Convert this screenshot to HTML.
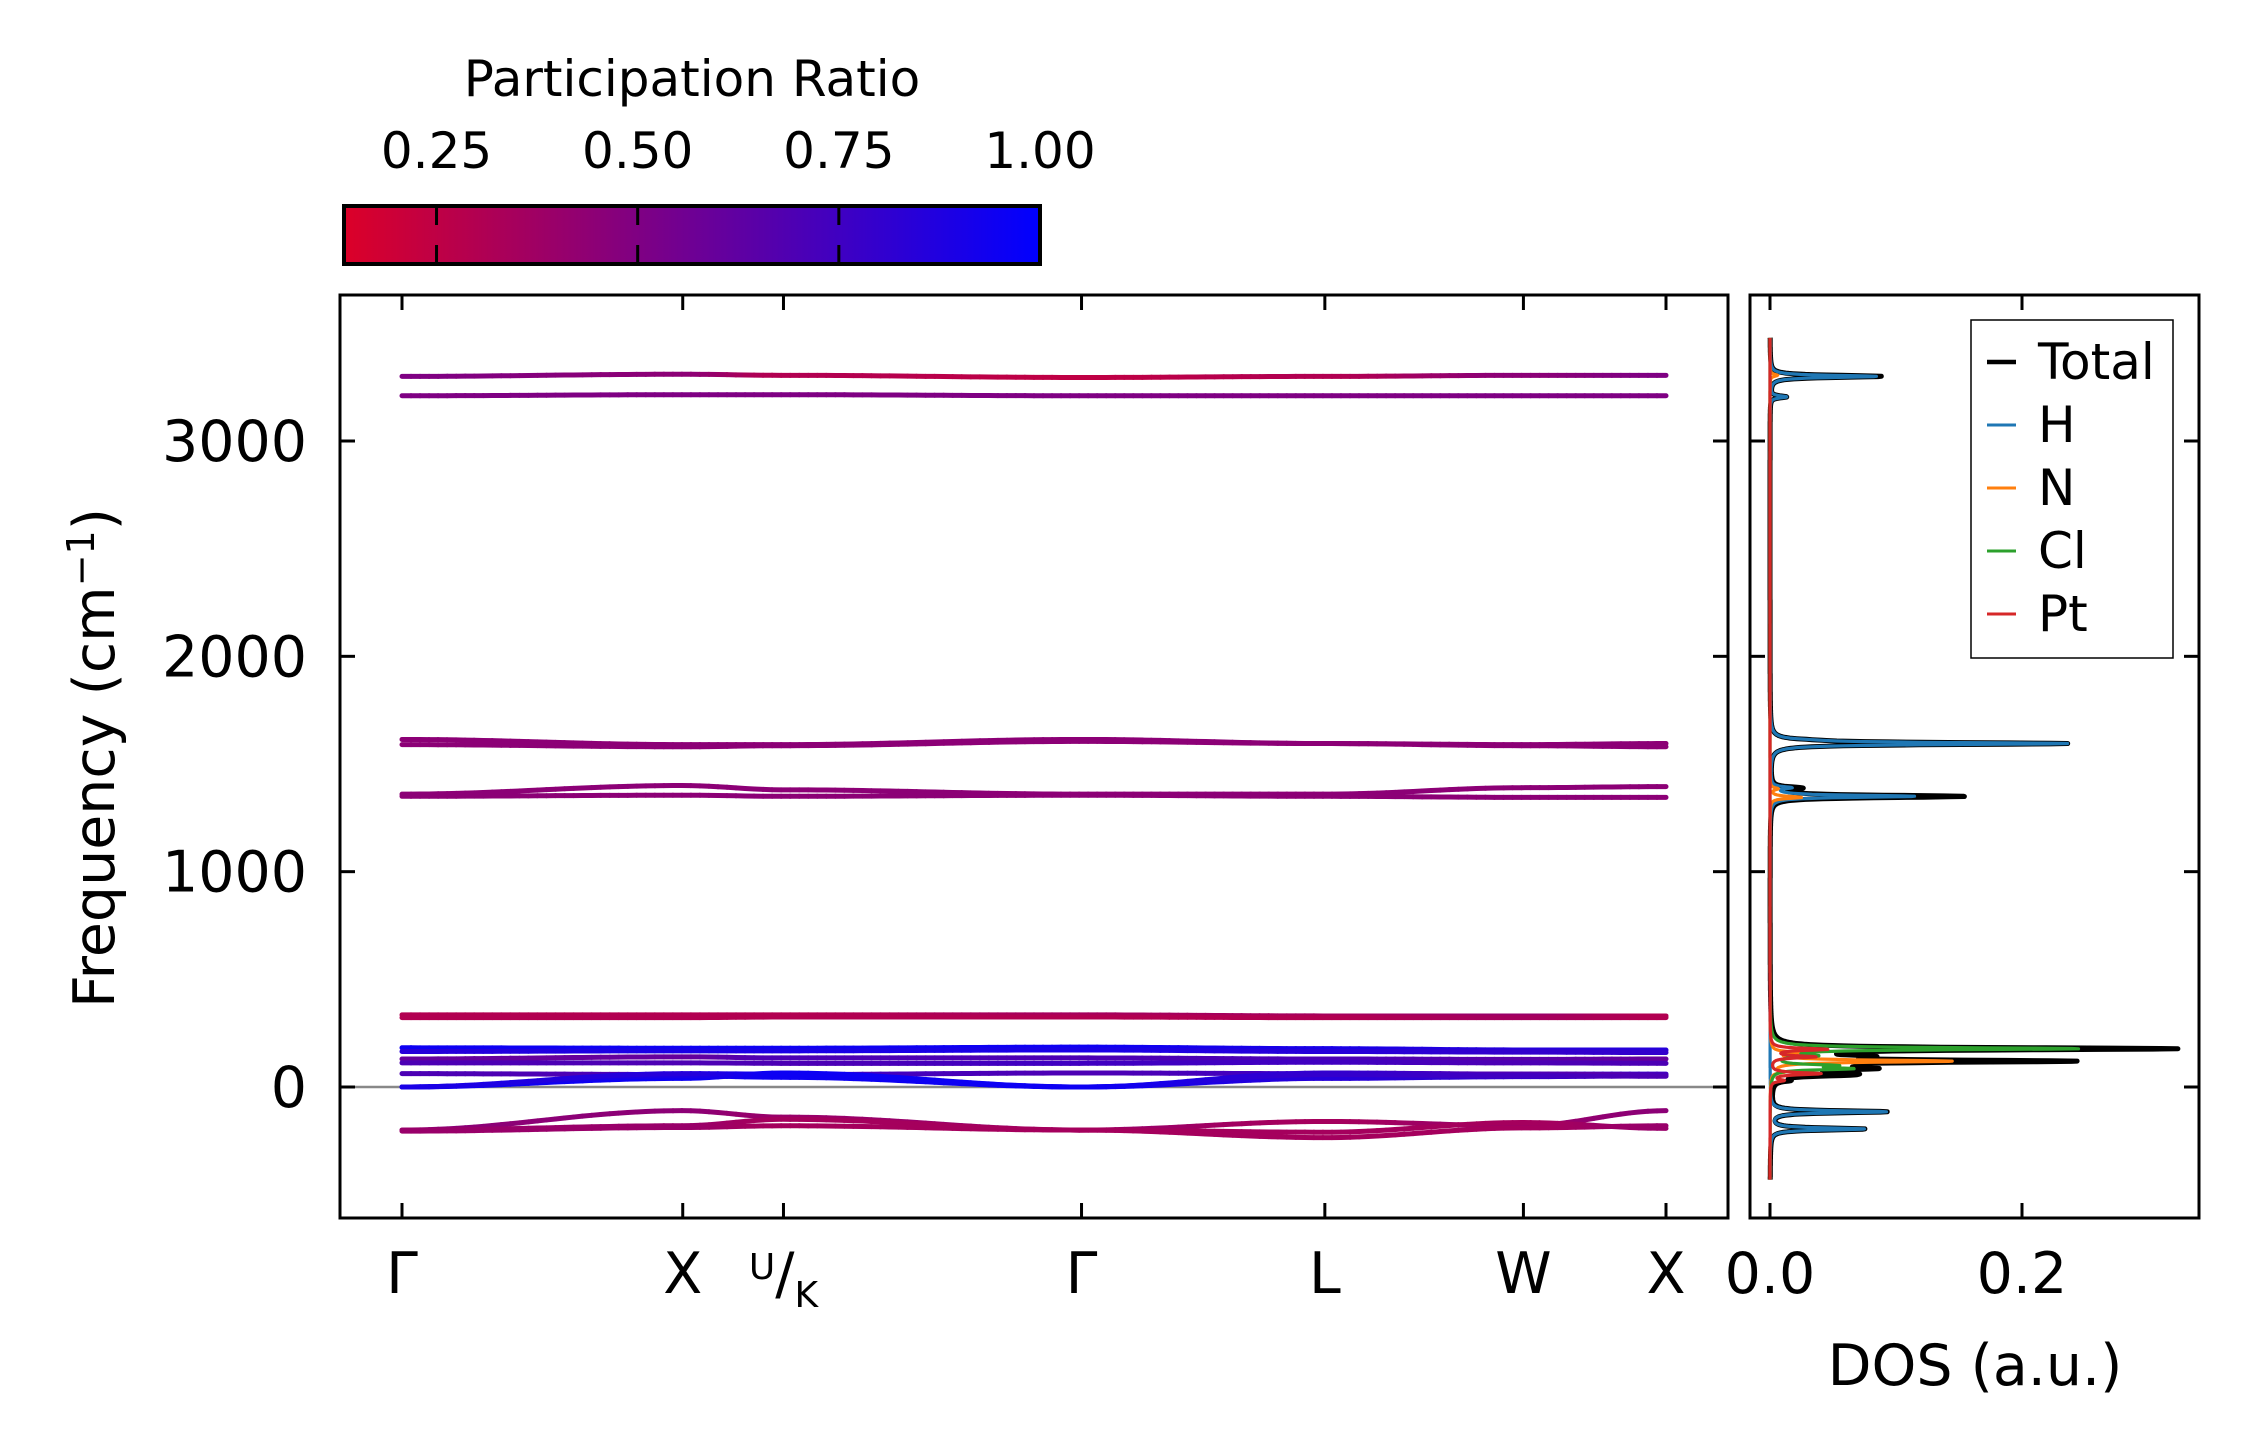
<!DOCTYPE html>
<html><head><meta charset="utf-8"><style>
html,body{margin:0;padding:0;background:#fff}
svg{display:block;font-family:"DejaVu Sans","Liberation Sans",sans-serif}
</style></head><body>
<svg id="chart" width="2259" height="1455" viewBox="0 0 2259 1455" xmlns="http://www.w3.org/2000/svg">
<g id="cbar"></g>
<g id="main"></g>
<g id="dos"></g>
</svg>
<script>
// ---- data ----
const kLabels = ["Γ","X","U/K","Γ","L","W","X"];
const kPos = [0, 0.2221, 0.3018, 0.5376, 0.7301, 0.8872, 1.0];
const bandFreqs = [
 [3300,3310,3305,3295,3300,3305,3305],
 [3210,3215,3215,3210,3210,3210,3210],
 [1614,1590,1590,1614,1595,1590,1595],
 [1590,1580,1585,1605,1595,1585,1580],
 [1360,1400,1380,1360,1360,1390,1395],
 [1350,1355,1350,1355,1350,1345,1345],
 [335,335,335,335,330,330,330],
 [322,322,325,325,322,322,322],
 [182,180,180,185,178,172,172],
 [165,168,168,172,165,162,160],
 [130,140,135,135,130,128,130],
 [112,112,110,110,115,112,110],
 [62,58,58,65,62,60,60],
 [0,40,65,0,65,60,55],
 [0,52,45,0,40,48,52],
 [0,62,60,0,58,52,50],
 [-200,-110,-140,-200,-160,-180,-110],
 [-200,-180,-150,-200,-235,-190,-180],
 [-205,-188,-180,-200,-210,-165,-192]
];
const bandPR = [
 [0.5,0.45,0.3,0.25,0.3,0.45,0.5],
 [0.5,0.5,0.5,0.5,0.5,0.5,0.5],
 [0.45,0.45,0.45,0.45,0.45,0.45,0.45],
 [0.45,0.45,0.45,0.45,0.45,0.45,0.45],
 [0.45,0.45,0.45,0.45,0.45,0.45,0.45],
 [0.45,0.45,0.45,0.45,0.45,0.45,0.45],
 [0.3,0.3,0.3,0.35,0.35,0.4,0.3],
 [0.3,0.3,0.3,0.3,0.3,0.35,0.3],
 [0.95,0.95,0.95,0.95,0.9,0.85,0.85],
 [0.85,0.9,0.9,0.9,0.85,0.8,0.8],
 [0.6,0.6,0.7,0.7,0.7,0.65,0.6],
 [0.7,0.7,0.7,0.75,0.75,0.7,0.7],
 [0.7,0.7,0.75,0.7,0.75,0.8,0.8],
 [0.95,0.95,0.95,0.95,0.8,0.7,0.6],
 [0.95,0.9,0.95,0.95,0.85,0.8,0.8],
 [0.9,0.85,0.95,0.95,0.8,0.75,0.7],
 [0.45,0.45,0.4,0.4,0.35,0.4,0.45],
 [0.4,0.4,0.35,0.35,0.35,0.35,0.4],
 [0.4,0.4,0.35,0.35,0.35,0.35,0.4]
];
const yTicks = [0,1000,2000,3000];
const cbTicks = [0.25,0.50,0.75,1.00];
const cbTickLabels = ["0.25","0.50","0.75","1.00"];
// DOS peaks: [frequency, height]
const dosH = [[3300,0.085],[3205,0.013],[1595,0.235],[1612,0.01],[1350,0.115],[1390,0.015],[-115,0.092],[-195,0.075]];
const dosN = [[3305,0.006],[1345,0.025],[1385,0.006],[120,0.145],[160,0.02],[70,0.01]];
const dosCl = [[178,0.245],[85,0.06],[100,0.045],[145,0.03]];
const dosPt = [[175,0.045],[62,0.04],[140,0.035],[30,0.01]];
const dosOther = [[1385,0.005],[1350,0.025],[178,0.035],[120,0.085],[55,0.04],[90,0.01]];
const dosXTicks = [0.0,0.2];
const legendNames = ["Total","H","N","Cl","Pt"];
const legendColors = ["#000000","#1f77b4","#ff7f0e","#2ca02c","#d62728"];

// ---- helpers ----
const NS="http://www.w3.org/2000/svg";
function mk(tag,attrs,parent){const e=document.createElementNS(NS,tag);for(const k in attrs)e.setAttribute(k,attrs[k]);parent.appendChild(e);return e;}
const ML=340, MR=1728, MT=295, MB=1218;
const DL=1750, DR=2199;
const Y0=1087, Y3000=441;
function yS(f){return Y0-f*(Y0-Y3000)/3000;}
function xS(k){return 402+(k-kPos[0])/(kPos[6]-kPos[0])*(1666-402);}
const DX0=1770, DX02=2022;
function dS(v){return DX0+v/0.2*(DX02-DX0);}
function prColor(p){const t=Math.max(0,Math.min(1,(p-0.135)/(1-0.135)));
 const r=Math.round(220*(1-t)),g=0,b=Math.round(40+(255-40)*t);return `rgb(${r},${g},${b})`;}
const tickFs=57, smallFs=50;

// ---- colorbar ----
const cb=document.getElementById('cbar');
const CBL=344, CBR=1040, CBT=206, CBB=264;
const defs=mk('defs',{},cb);
const grad=mk('linearGradient',{id:'cbg',x1:'0',x2:'1',y1:'0',y2:'0'},defs);
for(let i=0;i<=10;i++){mk('stop',{offset:i/10,'stop-color':prColor(0.135+i/10*(1-0.135))},grad);}
let r=mk('rect',{x:CBL,y:CBT,width:CBR-CBL,height:CBB-CBT,fill:'url(#cbg)',stroke:'#000','stroke-width':4},cb);

function cbX(v){return CBL+(v-0.135)/(1-0.135)*(CBR-CBL);}
cbTicks.forEach((v,i)=>{const x=cbX(v);
 if(i<3){mk('line',{x1:x,x2:x,y1:CBT,y2:CBT+19,stroke:'#000','stroke-width':3},cb);
 mk('line',{x1:x,x2:x,y1:CBB-19,y2:CBB,stroke:'#000','stroke-width':3},cb);}
 const t=mk('text',{x:x,y:168,'font-size':smallFs,'text-anchor':'middle'},cb);t.textContent=cbTickLabels[i];
 });
let ct=mk('text',{x:692,y:96,'font-size':smallFs,'text-anchor':'middle'},cb);ct.textContent="Participation Ratio";


// ---- band plot ----
const mg=document.getElementById('main');
mk('line',{x1:ML,x2:MR,y1:yS(0),y2:yS(0),stroke:'#888','stroke-width':2.5},mg);
function interp(arr,k){let s=0;while(s<5&&k>kPos[s+1])s++;
 const t=(k-kPos[s])/(kPos[s+1]-kPos[s]);const w=(1-Math.cos(Math.PI*t))/2;return arr[s]*(1-w)+arr[s+1]*w;}
bandFreqs.forEach((fr,bi)=>{const g=mk('g',{},mg);
 
 const N=140;let px=null,py=null;
 for(let i=0;i<=N;i++){const k=kPos[0]+(kPos[6]-kPos[0])*i/N;const x=xS(k),y=yS(interp(fr,k));
  if(px!==null){mk('line',{x1:px,y1:py,x2:x,y2:y,stroke:prColor(interp(bandPR[bi],k)),'stroke-width':5,'stroke-linecap':'round'},g);}
  px=x;py=y;}});
let fr=mk('rect',{x:ML,y:MT,width:MR-ML,height:MB-MT,fill:'none',stroke:'#000','stroke-width':3},mg);

kPos.forEach((k,i)=>{const x=xS(k);
 mk('line',{x1:x,x2:x,y1:MT,y2:MT+15,stroke:'#000','stroke-width':3},mg);
 mk('line',{x1:x,x2:x,y1:MB-15,y2:MB,stroke:'#000','stroke-width':3},mg);
 const t=mk('text',{x:x,y:1293,'font-size':tickFs,'text-anchor':'middle'},mg);
 
 if(kLabels[i]==="U/K"){t.innerHTML='<tspan font-size="36" dy="-14">U</tspan><tspan dy="14">/</tspan><tspan font-size="36" dy="14">K</tspan>';}
 else t.textContent=kLabels[i];});
yTicks.forEach(v=>{const y=yS(v);
 mk('line',{x1:ML,x2:ML+15,y1:y,y2:y,stroke:'#000','stroke-width':3},mg);
 mk('line',{x1:MR-15,x2:MR,y1:y,y2:y,stroke:'#000','stroke-width':3},mg);
 const t=mk('text',{x:307,y:y+20,'font-size':tickFs,'text-anchor':'end'},mg);t.textContent=v;
 });
let yl=mk('text',{x:0,y:0,'font-size':tickFs,'text-anchor':'middle',transform:'translate(114,758) rotate(-90)'},mg);
yl.innerHTML='Frequency (cm<tspan font-size="38" dy="-20">−1</tspan><tspan dy="20">)</tspan>';


// ---- DOS plot ----
const dg=document.getElementById('dos');
function curve(peaks,f){let s=0;peaks.forEach(p=>{const d=(f-p[0])/6;s+=p[1]/(1+d*d);});return s;}
const freqs=[];for(let f=-430;f<=3480;f+=1.5)freqs.push(f);
const sets=[dosH,dosN,dosCl,dosPt,dosOther];
function totalAt(f){return sets.reduce((a,p)=>a+curve(p,f),0);}
const series=[totalAt,f=>curve(dosH,f),f=>curve(dosN,f),f=>curve(dosCl,f),f=>curve(dosPt,f)];
series.forEach((fn,i)=>{const pts=freqs.map(f=>dS(fn(f)).toFixed(1)+','+yS(f).toFixed(1)).join(' ');
 const p=mk('polyline',{points:pts,fill:'none',stroke:legendColors[i],'stroke-width':i==0?5:3.2,'stroke-linejoin':'round'},dg);
 });
let df=mk('rect',{x:DL,y:MT,width:DR-DL,height:MB-MT,fill:'none',stroke:'#000','stroke-width':3},dg);

dosXTicks.forEach(v=>{const x=dS(v);
 mk('line',{x1:x,x2:x,y1:MT,y2:MT+15,stroke:'#000','stroke-width':3},dg);
 mk('line',{x1:x,x2:x,y1:MB-15,y2:MB,stroke:'#000','stroke-width':3},dg);
 const t=mk('text',{x:x,y:1293,'font-size':tickFs,'text-anchor':'middle'},dg);t.textContent=v.toFixed(1);
 });
yTicks.forEach(v=>{const y=yS(v);
 mk('line',{x1:DL,x2:DL+15,y1:y,y2:y,stroke:'#000','stroke-width':3},dg);
 mk('line',{x1:DR-15,x2:DR,y1:y,y2:y,stroke:'#000','stroke-width':3},dg);});
let dx=mk('text',{x:1975,y:1385,'font-size':tickFs,'text-anchor':'middle'},dg);dx.textContent="DOS (a.u.)";

// legend
const lg=mk('g',{},dg);

mk('rect',{x:1971,y:320,width:202,height:338,fill:'#fff',stroke:'#000','stroke-width':1.5},lg);
legendNames.forEach((n,i)=>{const y=362+i*63;const e=mk('g',{},lg);
 
 mk('line',{x1:1987,x2:2016,y1:y,y2:y,stroke:legendColors[i],'stroke-width':i==0?4.5:3},e);
 const t=mk('text',{x:2038,y:y+17,'font-size':smallFs},e);t.textContent=n;});
</script>
</body></html>
